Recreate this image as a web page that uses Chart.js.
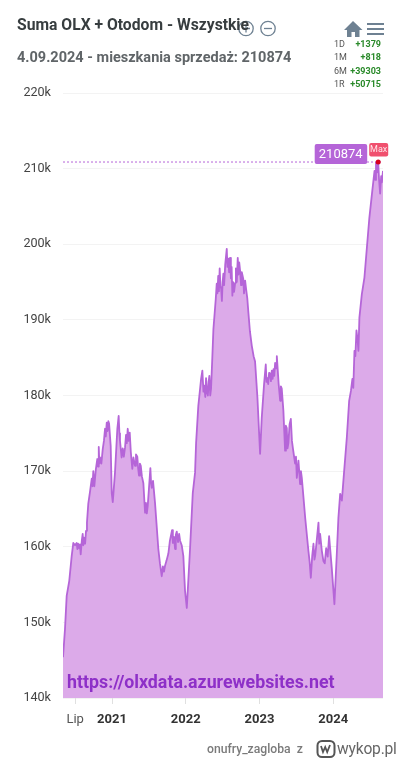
<!DOCTYPE html>
<html>
<head>
<meta charset="utf-8">
<script src="https://cdn.jsdelivr.net/npm/chart.js@4"></script>
<style>
html, body { margin: 0; padding: 0; background: #fff; }
body { width: 400px; height: 759px; position: relative; overflow: hidden; font-family: Roboto, sans-serif; }
canvas { position: absolute; left: 0; top: 0; }
.txt { position: absolute; white-space: nowrap; }
#tytul { left: 17px; top: 15px; font-size: 15.7px; font-weight: 700; color: #373d3f; }
#podtytul { left: 17px; top: 49px; font-size: 14.5px; font-weight: 700; color: #606568; }
#adres { left: 67px; top: 671px; font-size: 17.8px; font-weight: 700; color: #8e30c8; }
.okres { left: 334px; font-size: 9px; color: #555; }
.zmiana { right: 19px; font-size: 9px; font-weight: 700; color: #2a8a2a; }
#autor { left: 207px; top: 742px; font-size: 12.2px; font-weight: 500; color: #7a7a7a; }
#wykop { left: 337px; top: 740px; font-size: 15.6px; color: #666; letter-spacing: -0.2px; }
svg { position: absolute; left: 0; top: 0; }
</style>
</head>
<body>
<canvas id="canvas_grafica" width="400" height="759"></canvas>
<svg width="400" height="759" fill="none">
  <g stroke="#6e8192" stroke-width="1.3">
    <circle cx="246" cy="28.5" r="7.2"/><path d="M242 28.5h8M246 24.5v8"/>
    <circle cx="268" cy="28.5" r="7.2"/><path d="M264 28.5h8"/>
  </g>
  <path d="M353 21 L344 30 H347 V37 H351.5 V32 H355 V37 H359.5 V30 H362.5 Z" fill="#6e8192"/>
  <path d="M367 24h17M367 29h17M367 34h17" stroke="#6e8192" stroke-width="2"/>
  <rect x="317.5" y="741" width="17" height="16" rx="4.5" stroke="#555" stroke-width="2"/>
  <path d="M321 746l2 6 2.2-5 2 5 2.8-7" stroke="#555" stroke-width="1.8"/>
</svg>
<div class="txt" id="tytul">Suma OLX + Otodom - Wszystkie</div>
<div class="txt" id="podtytul">4.09.2024 - mieszkania sprzedaż: 210874</div>
<div class="txt" id="adres">https://olxdata.azurewebsites.net</div>
<div class="txt" id="autor">onufry_zagloba&nbsp; z</div>
<div class="txt" id="wykop">wykop.pl</div>
<div id="statystyki"></div>
<script>
// rok dziesietnie i liczba ogloszen, po kawalku na rok
const lata2020 = [2020.335,2020.362,2020.385,2020.42,2020.453,2020.475,2020.498,2020.52,2020.53,2020.54,2020.556,2020.565,2020.575,2020.59,2020.602,2020.61,2020.62,2020.635,2020.647,2020.66,2020.678,2020.7,2020.725,2020.735,2020.746,2020.76,2020.78,2020.8,2020.81,2020.82,2020.828,2020.837,2020.855,2020.874,2020.89,2020.905,2020.915,2020.928,2020.94,2020.95,2020.96,2020.982,2020.996];
const wartosci2020 = [145400,149100,153500,155500,158800,160500,160200,160500,159700,160400,159800,160300,159000,160800,161700,160200,161200,160400,162100,163200,165700,167200,169000,168000,170000,168000,170200,171600,170600,173200,171000,171800,171000,172900,174000,175600,174600,176400,175300,176600,176300,173300,167100];
const lata2021 = [2021.01,2021.04,2021.072,2021.09,2021.1,2021.108,2021.13,2021.145,2021.16,2021.176,2021.19,2021.2,2021.213,2021.225,2021.24,2021.255,2021.275,2021.29,2021.312,2021.325,2021.343,2021.355,2021.366,2021.378,2021.39,2021.405,2021.425,2021.448,2021.46,2021.472,2021.484,2021.5,2021.52,2021.53,2021.539,2021.556,2021.583,2021.628,2021.65,2021.674,2021.69,2021.705,2021.719,2021.74,2021.764,2021.785,2021.814,2021.825,2021.84,2021.855,2021.865,2021.878,2021.895,2021.91,2021.923,2021.945,2021.967,2021.99];
const wartosci2021 = [165900,169800,175600,177300,175000,174000,171800,173000,171900,173100,174800,173700,175600,174000,175100,172500,170300,171800,170700,172200,171900,170300,169400,171000,170700,169300,168400,164500,165800,164400,165400,167600,170400,168400,167800,168700,165800,159700,157800,156100,157400,156700,157500,158200,159100,160800,162200,160500,161300,159700,161600,162000,160600,161700,160800,160200,158800,154200];
const lata2022 = [2022.014,2022.058,2022.095,2022.126,2022.14,2022.17,2022.19,2022.208,2022.225,2022.24,2022.252,2022.265,2022.275,2022.288,2022.3,2022.31,2022.32,2022.332,2022.343,2022.36,2022.375,2022.407,2022.42,2022.43,2022.44,2022.45,2022.46,2022.47,2022.48,2022.49,2022.5,2022.51,2022.52,2022.535,2022.556,2022.565,2022.578,2022.588,2022.6,2022.612,2022.622,2022.632,2022.642,2022.655,2022.67,2022.68,2022.692,2022.705,2022.715,2022.725,2022.737,2022.75,2022.76,2022.78,2022.79,2022.805,2022.818,2022.835,2022.85,2022.87,2022.895,2022.92,2022.94,2022.972];
const wartosci2022 = [151900,159700,167100,169800,173700,178600,180500,182200,183300,180500,181300,179800,182300,180400,180000,181800,182600,180000,180900,185000,188800,192800,194800,193500,195800,193800,196800,194500,194100,192500,195000,196100,194600,197300,199400,197000,198100,196300,198200,195500,197000,193200,195000,193700,194900,196800,195000,198200,196000,197600,196500,194600,196300,195400,193500,195200,194100,192800,190900,188500,186600,185200,184500,179700];
const lata2023 = [2023.008,2023.03,2023.062,2023.085,2023.095,2023.107,2023.118,2023.13,2023.144,2023.155,2023.167,2023.178,2023.19,2023.2,2023.212,2023.225,2023.235,2023.26,2023.28,2023.29,2023.302,2023.324,2023.347,2023.358,2023.37,2023.38,2023.392,2023.408,2023.425,2023.44,2023.452,2023.468,2023.483,2023.495,2023.506,2023.518,2023.528,2023.54,2023.55,2023.562,2023.574,2023.62,2023.664,2023.68,2023.696,2023.715,2023.732,2023.745,2023.755,2023.78,2023.8,2023.81,2023.822,2023.845,2023.867,2023.885,2023.904,2023.925,2023.944,2023.98];
const wartosci2023 = [172300,177000,181500,184100,181800,182300,181500,183000,182900,181900,183300,182200,183500,182600,184300,183600,185200,181500,179300,181200,180900,178000,172700,176000,175700,173000,173700,176200,176900,174000,173100,172000,171000,171900,169100,170300,171400,169800,168300,170000,169100,163800,159400,158000,155900,158800,160400,158300,158800,161200,163200,160400,161700,159500,158100,157800,159800,158700,161400,157200];
const lata2024 = [2024.016,2024.05,2024.07,2024.094,2024.117,2024.148,2024.184,2024.216,2024.24,2024.26,2024.272,2024.288,2024.3,2024.315,2024.33,2024.342,2024.355,2024.388,2024.423,2024.456,2024.49,2024.53,2024.56,2024.57,2024.58,2024.595,2024.61,2024.622,2024.636,2024.65,2024.66,2024.675];
const wartosci2024 = [152400,159400,163800,167000,166100,170000,174400,179300,180600,182200,181000,185900,185200,188600,187400,185900,190300,193400,195600,199500,203500,207100,209700,208500,210800,209500,210874,208500,206700,209000,208200,209700];
const tickiLat = [2020.5, 2021, 2022, 2023, 2024];
const tickiNazwy = ["Lip", "2021", "2022", "2023", "2024"];
const okresy = ["1D", "1M", "6M", "1R"];
const zmiany = ["+1379", "+818", "+39303", "+50715"];
const maksimum = 210874;
const rokMaksimum = 2024.61;

const lata = [...lata2020, ...lata2021, ...lata2022, ...lata2023, ...lata2024];
const wartosci = [...wartosci2020, ...wartosci2021, ...wartosci2022, ...wartosci2023, ...wartosci2024];

let statystyki = document.getElementById("statystyki");
okresy.forEach((okres, i) => {
    let top = 39 + i * 13.3;
    statystyki.innerHTML += `<div class="txt okres" style="top:${top}px">${okres}</div><div class="txt zmiana" style="top:${top}px">${zmiany[i]}</div>`;
});

function zaokraglonyProstokat(ctx, x, y, w, h, kolor) {
    ctx.fillStyle = kolor;
    ctx.beginPath();
    ctx.roundRect(x, y, w, h, 2);
    ctx.fill();
}

// etykiety nad kropka maksimum
const etykietyMax = {
    id: "etykietyMax",
    afterDatasetsDraw(chart) {
        let ctx = chart.ctx;
        let px = chart.scales.x.getPixelForValue(rokMaksimum);
        let py = chart.scales.y.getPixelForValue(maksimum);
        ctx.save();
        ctx.textAlign = "center";
        ctx.textBaseline = "middle";
        zaokraglonyProstokat(ctx, px - 63.5, py - 18, 52.5, 20, "#b565d8");
        ctx.fillStyle = "#fff";
        ctx.font = "13px Roboto";
        ctx.fillText(String(maksimum), px - 37.5, py - 7.5);
        zaokraglonyProstokat(ctx, px - 9, py - 19, 19, 13.5, "#f0506e");
        ctx.fillStyle = "#ffe3e8";
        ctx.font = "9px Roboto";
        ctx.fillText("Max", px + 0.5, py - 12);
        ctx.restore();
    }
};

new Chart(document.getElementById("canvas_grafica"), {
    type: "line",
    data: {
        datasets: [{
            order: 2,
            data: lata.map((rok, i) => ({x: rok, y: wartosci[i]})),
            borderColor: "#b565d8",
            backgroundColor: "#dcaae9",
            borderWidth: 1.8,
            borderJoinStyle: "round",
            tension: 0,
            pointRadius: 0,
            fill: "start"
        }, {
            order: 1,
            data: [{x: lata[0], y: maksimum}, {x: lata[lata.length - 1], y: maksimum}],
            borderColor: "#b565d8",
            borderWidth: 1,
            borderDash: [2, 2],
            pointRadius: 0,
            fill: false
        }, {
            order: 0,
            data: [{x: rokMaksimum, y: maksimum}],
            pointRadius: 2.5,
            pointBackgroundColor: "#d8001e",
            pointBorderWidth: 0,
            showLine: false
        }]
    },
    options: {
        responsive: false,
        animation: false,
        layout: { padding: { left: 0, right: 17, top: 93, bottom: 25 } },
        plugins: { legend: { display: false }, tooltip: { enabled: false } },
        scales: {
            y: {
                min: 140000,
                max: 220000,
                afterFit: s => { s.width = 63; },
                border: { display: false },
                grid: { color: "#f3f3f3", drawTicks: false },
                ticks: {
                    stepSize: 10000,
                    padding: 12,
                    color: "#444",
                    font: { family: "Roboto", size: 12.6 },
                    callback: v => (v / 1000) + "k"
                }
            },
            x: {
                type: "linear",
                min: lata[0],
                max: lata[lata.length - 1],
                afterFit: s => { s.height = 36; },
                afterBuildTicks: s => { s.ticks = tickiLat.map(v => ({value: v})); },
                border: { display: false },
                grid: { drawOnChartArea: false, drawTicks: true, tickLength: 6, tickColor: "#e0e0e0" },
                ticks: {
                    autoSkip: false,
                    maxRotation: 0,
                    padding: 8,
                    color: ctx => ctx.index === 0 ? "#555" : "#333",
                    font: ctx => ({ family: "Roboto", size: 13, weight: ctx.index === 0 ? "normal" : "bold" }),
                    callback: v => tickiNazwy[tickiLat.indexOf(v)]
                }
            }
        }
    },
    plugins: [etykietyMax]
});
</script>
</body>
</html>
